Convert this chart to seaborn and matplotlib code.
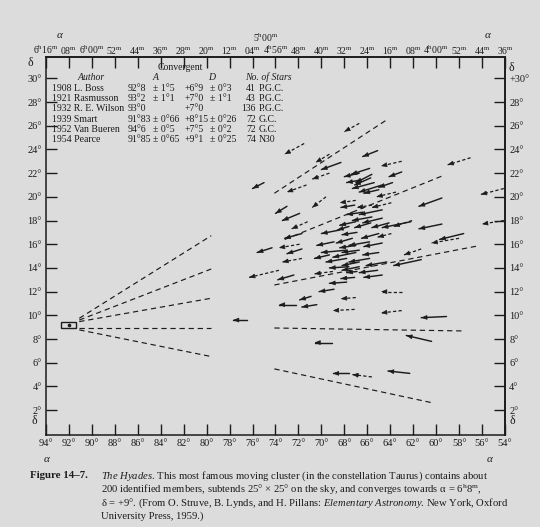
import pandas as pd
import seaborn as sns
import matplotlib.pyplot as plt
from matplotlib.patches import Rectangle

# Hyades proper motion vectors (star position -> arrow head), degrees
arrow_ra0 = [71.5, 75.0, 68.3, 69.3, 69.3, 71.3, 69.6, 73.0, 71.9, 71.2, 71.7, 74.3, 71.9, 71.7,
             71.7, 73.7, 72.4, 69.0, 67.8, 68.9, 70.9, 70.4, 72.2, 67.0, 67.1, 63.0, 59.1, 60.4,
             69.1, 67.6, 65.6, 62.3, 63.0, 76.5, 63.0, 63.0, 57.0, 63.8, 59.5, 54.1, 62.1, 59.5,
             54.1, 57.6, 58.0, 61.3, 61.3, 66.7, 65.1, 65.8, 65.6, 65.7, 65.4, 64.7, 65.0, 63.5,
             67.0, 67.1, 65.6, 63.9, 66.4, 64.7, 65.6, 64.7, 62.2, 67.0, 66.7, 67.6, 66.9, 67.3,
             68.9, 67.0, 67.8, 67.0, 67.8, 66.7, 67.6, 66.9, 65.7, 64.1, 65.0, 63.9, 65.8, 64.7,
             66.7, 65.0, 65.8, 64.3, 66.7, 65.1, 64.7, 67.1, 68.4, 69.3, 66.7]
arrow_dec0 = [24.5, 21.2, 22.9, 23.6, 22.0, 21.0, 20.0, 19.2, 18.6, 17.9, 16.9, 15.7, 16.0, 15.6,
              14.8, 13.8, 13.4, 13.7, 12.8, 12.2, 11.6, 10.9, 10.9, 11.5, 10.5, 10.4, 9.9, 7.8,
              7.7, 5.1, 4.8, 5.1, 12.0, 9.6, 23.0, 22.1, 23.3, 21.2, 19.9, 20.7, 18.0, 17.7,
              18.0, 16.9, 16.5, 15.6, 14.7, 26.2, 23.9, 22.4, 21.9, 21.6, 21.2, 21.0, 20.6, 20.4,
              19.7, 19.3, 19.3, 19.5, 18.7, 18.9, 18.3, 18.2, 17.9, 17.9, 22.0, 17.5, 17.0, 16.5,
              16.2, 15.9, 15.5, 15.3, 14.8, 14.5, 14.1, 13.7, 17.8, 17.8, 16.9, 16.9, 16.2, 16.1,
              15.5, 15.3, 14.8, 14.5, 14.1, 13.8, 13.4, 13.2, 17.2, 15.1, 21.4]
arrow_ra1 = [73.2, 76.0, 70.0, 70.5, 70.8, 73.0, 70.8, 74.0, 73.4, 72.6, 73.2, 75.6, 73.7, 73.0,
             73.4, 76.3, 73.8, 70.6, 69.3, 70.2, 71.9, 71.7, 73.7, 68.3, 69.0, 64.8, 61.3, 62.6,
             70.6, 69.0, 67.3, 64.2, 64.8, 77.7, 64.8, 64.1, 59.0, 65.0, 61.5, 56.1, 63.7, 61.5,
             56.0, 59.7, 60.4, 62.8, 63.7, 68.0, 66.4, 67.4, 67.0, 67.1, 67.3, 66.7, 66.3, 65.2,
             68.4, 68.3, 66.9, 65.6, 67.8, 66.7, 67.3, 66.4, 64.7, 68.4, 68.0, 68.6, 68.2, 68.7,
             70.4, 68.4, 70.0, 69.0, 69.6, 68.2, 69.3, 67.8, 67.1, 65.6, 66.5, 65.1, 67.6, 66.3,
             68.2, 66.4, 67.6, 66.1, 68.2, 66.7, 66.3, 68.3, 70.0, 70.6, 67.8]
arrow_dec1 = [23.6, 20.7, 22.3, 22.9, 21.5, 20.4, 19.1, 18.6, 18.0, 17.3, 16.5, 15.3, 15.7, 15.2,
              14.5, 13.2, 13.0, 13.5, 12.7, 12.0, 11.3, 10.7, 10.9, 11.4, 10.4, 10.2, 9.8, 8.3,
              7.7, 5.1, 5.0, 5.3, 12.0, 9.6, 22.6, 21.7, 22.7, 20.8, 19.2, 20.2, 17.5, 17.3,
              17.7, 16.4, 16.1, 15.1, 14.2, 25.5, 23.4, 21.9, 21.2, 21.0, 20.7, 20.4, 20.3, 20.0,
              19.5, 19.1, 19.1, 19.1, 18.5, 18.5, 18.0, 17.8, 17.4, 17.6, 21.7, 17.2, 16.8, 16.1,
              15.9, 15.7, 15.3, 14.9, 14.5, 14.2, 14.0, 13.6, 17.4, 17.4, 16.5, 16.6, 15.9, 15.8,
              15.3, 15.1, 14.5, 14.2, 13.8, 13.6, 13.2, 13.1, 16.9, 14.8, 21.2]
arrow_dashed = [1, 0, 0, 1, 1, 1, 1, 0, 0, 1, 0, 0, 1, 0,
                1, 1, 0, 1, 0, 0, 0, 0, 0, 1, 1, 1, 0, 0,
                0, 0, 1, 0, 1, 0, 1, 0, 1, 0, 0, 1, 1, 0,
                1, 0, 1, 1, 0, 1, 0, 0, 0, 0, 0, 0, 0, 1,
                1, 0, 1, 1, 0, 0, 0, 0, 0, 0, 0, 0, 0, 0,
                0, 0, 0, 0, 0, 0, 0, 0, 0, 0, 0, 1, 0, 0,
                0, 0, 0, 0, 0, 0, 0, 0, 0, 0, 0]

# great circles towards the convergent point
guide_ra0 = [91.1, 91.1, 91.1, 91.1, 91.1, 74.1, 73.2, 74.1, 74.1, 74.1]
guide_dec0 = [9.75, 9.6, 9.47, 8.91, 8.77, 20.3, 16.4, 12.56, 8.93, 5.48]
guide_ra1 = [79.6, 79.6, 79.6, 79.6, 79.6, 64.3, 59.5, 56.4, 57.6, 60.3]
guide_dec1 = [16.72, 13.91, 11.44, 8.91, 6.52, 26.5, 21.75, 15.85, 8.68, 2.61]

conv_box = (92.72, 91.39, 8.91, 9.41)
conv_point = (92.0, 9.19)

ra_ticks = list(range(94, 53, -2))
dec_ticks = list(range(2, 31, 2))
ra_hm = [('6', '16'), (None, '08'), ('6', '00'), (None, '52'), (None, '44'), (None, '36'),
         (None, '28'), (None, '20'), (None, '12'), (None, '04'), ('4', '56'), (None, '48'),
         (None, '40'), (None, '32'), (None, '24'), (None, '16'), (None, '08'), ('4', '00'),
         (None, '52'), (None, '44'), (None, '36')]

authors = ['1908 L. Boss', '1921 Rasmusson', '1932 R. E. Wilson', '1939 Smart',
           '1952 Van Bueren', '1954 Pearce']
conv_a = ['92°8', '93°2', '93°0', '91°83', '94°6', '91°85']
conv_a_err = ['± 1°5', '± 1°1', '', '± 0°66', '± 0°5', '± 0°65']
conv_d = ['+6°9', '+7°0', '+7°0', '+8°15', '+7°5', '+9°1']
conv_d_err = ['± 0°3', '± 1°1', '', '± 0°26', '± 0°2', '± 0°25']
n_stars = [41, 43, 136, 72, 72, 74]
catalog = ['P.G.C.', 'P.G.C.', 'P.G.C.', 'G.C.', 'G.C.', 'N30']

ink = '#1c1c1c'
paper = '#dcdcdc'

sns.set_theme(style='ticks', rc={'axes.facecolor': paper, 'figure.facecolor': paper,
                                 'axes.edgecolor': ink, 'text.color': ink,
                                 'xtick.color': ink, 'ytick.color': ink})
plt.rcParams['font.family'] = ['Liberation Serif', 'DejaVu Serif']
plt.rcParams['mathtext.fontset'] = 'custom'
plt.rcParams['mathtext.rm'] = 'Liberation Serif'
plt.rcParams['mathtext.it'] = 'Liberation Serif:italic'
plt.rcParams['mathtext.bf'] = 'Liberation Serif:bold'

W, H = 540, 527


def px(x, y):
    return x / W, 1 - y / H


fig = plt.figure(figsize=(W / 100, H / 100), dpi=100)
ax = fig.add_axes([46 / W, 1 - 435 / H, (505 - 46) / W, (435 - 57) / H])

rows = []
for i in range(len(arrow_ra0)):
    kind = 'dashed' if arrow_dashed[i] else 'solid'
    rows.append((f'a{i}', arrow_ra0[i], arrow_dec0[i], kind))
    rows.append((f'a{i}', arrow_ra1[i], arrow_dec1[i], kind))
for i in range(len(guide_ra0)):
    rows.append((f'g{i}', guide_ra0[i], guide_dec0[i], 'guide'))
    rows.append((f'g{i}', guide_ra1[i], guide_dec1[i], 'guide'))
seg = pd.DataFrame(rows, columns=['seg', 'ra', 'dec', 'kind'])

sns.lineplot(data=seg, x='ra', y='dec', units='seg', estimator=None, sort=False,
             style='kind', size='kind',
             dashes={'solid': '', 'dashed': (2.6, 1.8), 'guide': (4.5, 3.2)},
             sizes={'solid': 1.05, 'dashed': 0.9, 'guide': 0.85},
             color=ink, legend=False, ax=ax)

# arrow heads at the left end
for i in range(len(arrow_ra0)):
    hx, hy = arrow_ra1[i], arrow_dec1[i]
    bx = hx + 0.15 * (arrow_ra0[i] - hx)
    by = hy + 0.15 * (arrow_dec0[i] - hy)
    ax.annotate('', xy=(hx, hy), xytext=(bx, by),
                arrowprops=dict(arrowstyle='-|>,head_length=0.7,head_width=0.28',
                                mutation_scale=5, color=ink, lw=0.5,
                                shrinkA=0, shrinkB=0))

ax.add_patch(Rectangle((conv_box[0], conv_box[2]), conv_box[1] - conv_box[0],
                       conv_box[3] - conv_box[2], fill=False, ec=ink, lw=1.0))
ax.plot([conv_point[0]], [conv_point[1]], 'o', ms=1.6, color=ink)

ax.set_xlim(94, 54)
ax.set_ylim(-0.1, 31.8)
ax.set_xlabel('')
ax.set_ylabel('')
for s in ax.spines.values():
    s.set_linewidth(1.1)
    s.set_color(ink)

ax.set_xticks(ra_ticks, labels=[f'{d}°' for d in ra_ticks])
ax.set_yticks(dec_ticks, labels=[f'{d}°' for d in dec_ticks])
ax.tick_params(direction='in', length=8, width=1, labelsize=7.5, pad=3)

top = ax.secondary_xaxis('top')
top_labels = []
for h, m in ra_hm:
    lab = m + r'$^\mathrm{m}$'
    if h:
        lab = h + r'$^\mathrm{h}$' + lab
    top_labels.append(lab)
top.set_xticks(ra_ticks, labels=top_labels)
top.tick_params(direction='in', length=8, width=1, labelsize=7, pad=0.5)

right = ax.secondary_yaxis('right')
right.set_yticks(dec_ticks, labels=['+30°' if d == 30 else f'{d}°' for d in dec_ticks])
right.tick_params(direction='in', length=8, width=1, labelsize=7.5, pad=3)

fig.text(*px(266, 38), '5' + r'$^\mathrm{h}$' + '00' + r'$^\mathrm{m}$',
         fontsize=7, ha='center', va='center')
for x, y in [(60, 36), (488, 36), (47, 460), (490, 460)]:
    fig.text(*px(x, y), 'α', fontsize=8, style='italic', ha='center', va='center')
for x, y in [(30, 63), (511, 68), (34, 421), (512, 421)]:
    fig.text(*px(x, y), 'δ', fontsize=8.5, ha='center', va='center')

# table of convergent point determinations
tfs = 7
fig.text(*px(158, 68), 'Convergent', fontsize=tfs, va='center')
fig.text(*px(78, 77.5), 'Author', fontsize=tfs, style='italic', va='center')
fig.text(*px(153, 77.5), 'A', fontsize=tfs, style='italic', va='center')
fig.text(*px(208, 77.5), 'D', fontsize=tfs, style='italic', va='center')
fig.text(*px(245, 77.5), 'No. of Stars', fontsize=tfs, style='italic', va='center')
for i in range(len(authors)):
    y = 88.3 + 10.3 * i
    fig.text(*px(52, y), authors[i], fontsize=tfs, va='center')
    fig.text(*px(128, y), conv_a[i], fontsize=tfs, va='center')
    fig.text(*px(153, y), conv_a_err[i], fontsize=tfs, va='center')
    fig.text(*px(185, y), conv_d[i], fontsize=tfs, va='center')
    fig.text(*px(210, y), conv_d_err[i], fontsize=tfs, va='center')
    fig.text(*px(256, y), str(n_stars[i]), fontsize=tfs, ha='right', va='center')
    fig.text(*px(259, y), catalog[i], fontsize=tfs, va='center')

# caption
cfs = 7.7
fig.text(*px(30, 476), 'Figure 14–7.', fontsize=7.8, weight='bold', va='center')
caption = [
    r'$\mathit{The\ Hyades}$. This most famous moving cluster (in the constellation Taurus) contains about',
    '200 identified members, subtends 25° × 25° on the sky, and converges towards α = 6'
    + r'$^\mathrm{h}$' + '8' + r'$^\mathrm{m}$' + ',',
    'δ = +9°. (From O. Struve, B. Lynds, and H. Pillans: '
    + r'$\mathit{Elementary\ Astronomy}$' + '. New York, Oxford',
    'University Press, 1959.)',
]
for i, line in enumerate(caption):
    fig.text(*px(101, 476 + 13.4 * i), line, fontsize=cfs, va='center')

fig.savefig('out.png', dpi=100, facecolor=paper)
